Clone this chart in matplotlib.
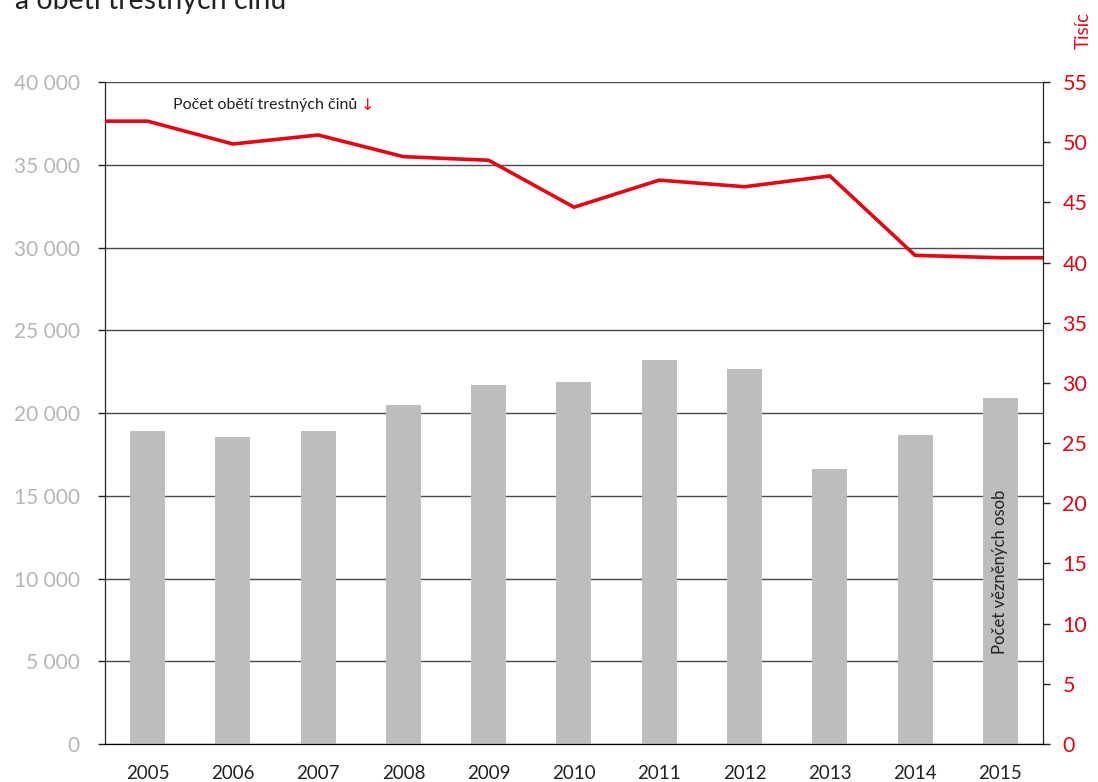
import matplotlib
matplotlib.use('Agg')
import matplotlib.pyplot as plt
import numpy as np

# Data
years = ['2005', '2006', '2007', '2008', '2009', '2010',
         '2011', '2012', '2013', '2014', '2015']
prisoners = [18900, 18550, 18900, 20480, 21690, 21870,
             23200, 22660, 16620, 18670, 20900]
victims_thousands = [51.75, 49.85, 50.6, 48.8, 48.5, 44.6,
                     46.85, 46.3, 47.2, 40.6, 40.4]
left_ticks = list(range(0, 40001, 5000))
right_ticks = list(range(0, 56, 5))

RED = '#e30613'
GREY_BAR = '#bdbdbd'
GREY_LABEL = '#b5b5b5'
DARK = '#222222'

plt.rcParams['font.family'] = ['Lato', 'DejaVu Sans']

fig = plt.figure(figsize=(10.98, 7.82), dpi=100)
ax = fig.add_axes([0.0956, 0.0486, 0.8543, 0.8465])
ax2 = ax.twinx()

x = np.arange(len(years))

# bars (left axis)
ax.bar(x, prisoners, width=0.41, color=GREY_BAR, zorder=2)
ax.set_ylim(0, 40000)
ax.set_xlim(-0.5, len(years) - 0.5)
ax.set_yticks(left_ticks)
ax.set_yticklabels([f'{v:,}'.replace(',', ' ') for v in left_ticks])
ax.set_xticks(x)
ax.set_xticklabels(years)
ax.yaxis.grid(True, color='#4a4a4a', linewidth=1.0, zorder=1)
ax.set_axisbelow(True)
ax.tick_params(axis='y', length=5, width=1, direction='out', pad=13,
               labelsize=15, labelcolor=GREY_LABEL, color=DARK)
ax.tick_params(axis='x', length=0, pad=15, labelsize=13.5, labelcolor=DARK)
for side in ['left', 'bottom', 'right', 'top']:
    ax.spines[side].set_color(DARK)
ax.spines['top'].set_visible(False)

# line (right axis), extended flat to the plot edges
xl = np.concatenate([[-0.5], x, [len(years) - 0.5]])
yl = np.concatenate([[victims_thousands[0]], victims_thousands, [victims_thousands[-1]]])
ax2.plot(xl, yl, color=RED, linewidth=2.6, zorder=5, solid_joinstyle='miter')
ax2.set_ylim(0, 55)
ax2.set_yticks(right_ticks)
ax2.tick_params(axis='y', length=5, width=1, direction='out', pad=9,
                labelsize=15.5, labelcolor=RED, color=DARK)
ax2.spines['top'].set_visible(False)
ax2.spines['right'].set_color(DARK)
ax2.spines['left'].set_color(DARK)

# axis unit label
fig.text(0.9865, 0.961, 'Tisíc', rotation=90, color=RED, fontsize=13.5,
         ha='center', va='center')

# title (cut at the top in the reference)
fig.text(0.014, 0.9885, 'a obětí trestných činů', fontsize=20.5, color=DARK,
         ha='left', va='baseline')

# series annotations
t = ax.text(0.072, 0.965, 'Počet obětí trestných činů', transform=ax.transAxes,
            fontsize=11.5, color=DARK, ha='left', va='center')
fig.canvas.draw()
bb = t.get_window_extent()
inv = ax.transAxes.inverted()
x_end = inv.transform((bb.x1, bb.y0))[0]
ax.text(x_end + 0.004, 0.965, '↓', transform=ax.transAxes, fontsize=11.5,
        color=RED, ha='left', va='center', family=['DejaVu Sans'])

ax.text(x[-1], 10400, 'Počet vězněných osob', rotation=90, fontsize=12,
        color=DARK, ha='center', va='center', zorder=6)

fig.savefig('out.png', dpi=100)
